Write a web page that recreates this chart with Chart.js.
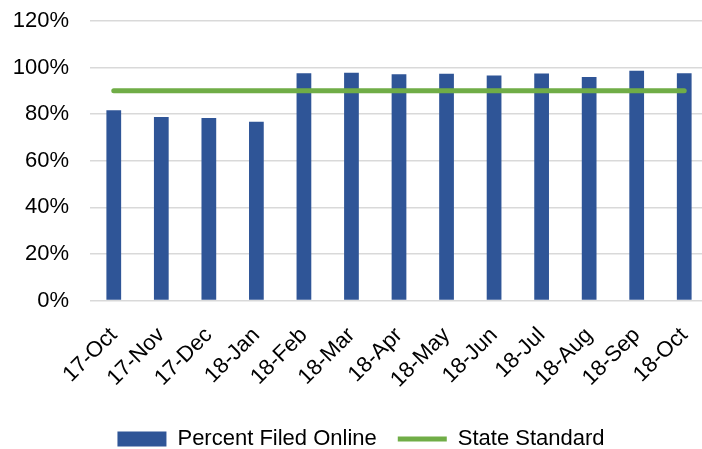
<!DOCTYPE html>
<html>
<head>
<meta charset="utf-8">
<script src="https://cdn.jsdelivr.net/npm/chart.js@4/dist/chart.umd.min.js"></script>
<style>
  html, body { margin: 0; padding: 0; background: #fff; overflow: hidden; }
  #wrap { width: 710px; height: 449px; }
</style>
</head>
<body>
<div id="wrap"><canvas id="filingChart"></canvas></div>
<script>
// data
var months = ['17-Oct', '17-Nov', '17-Dec', '18-Jan', '18-Feb', '18-Mar', '18-Apr',
              '18-May', '18-Jun', '18-Jul', '18-Aug', '18-Sep', '18-Oct'];
var percentOnline = [81.7, 78.8, 78.3, 76.7, 97.6, 97.8, 97.1, 97.3, 96.6, 97.5, 95.9, 98.6, 97.6];
var stateStandard = [90, 90, 90, 90, 90, 90, 90, 90, 90, 90, 90, 90, 90];
var yTicks = [0, 20, 40, 60, 80, 100, 120];

var font = { family: 'Arial, "Liberation Sans", sans-serif', size: 22 };

document.addEventListener('DOMContentLoaded', function() {
    var ctx = document.getElementById('filingChart').getContext('2d');
    new Chart(ctx, {
        data: {
            labels: months,
            datasets: [{
                type: 'line',
                label: 'State Standard',
                data: stateStandard,
                borderColor: '#70AD47',
                backgroundColor: '#70AD47',
                borderWidth: 5,
                borderCapStyle: 'round',
                pointRadius: 0,
                pointStyle: 'line',
                order: 0
            }, {
                type: 'bar',
                label: 'Percent Filed Online',
                data: percentOnline,
                backgroundColor: '#2F5597',
                borderWidth: 0,
                pointStyle: 'rect',
                barPercentage: 1,
                categoryPercentage: 0.31,
                order: 1
            }]
        },
        options: {
            responsive: true,
            maintainAspectRatio: false,
            animation: false,
            layout: { padding: { left: 14, right: 2, top: 21, bottom: -11 } },
            plugins: {
                legend: {
                    position: 'bottom',
                    reverse: true,
                    labels: {
                        font: font,
                        color: '#000',
                        usePointStyle: true,
                        pointStyleWidth: 49,
                        boxHeight: 15,
                        padding: 21
                    }
                },
                tooltip: { enabled: false }
            },
            scales: {
                x: {
                    grid: { display: false },
                    border: { display: false },
                    ticks: {
                        font: font,
                        color: '#000',
                        minRotation: 45,
                        maxRotation: 45,
                        autoSkip: false,
                        padding: 14
                    },
                    afterFit: function(scale) {
                        scale.paddingLeft = 0;
                        scale.paddingRight = 0;
                    }
                },
                y: {
                    min: 0,
                    max: 120,
                    afterBuildTicks: function(axis) {
                        axis.ticks = yTicks.map(function(v) { return { value: v }; });
                    },
                    afterFit: function(scale) {
                        scale.width = 76;
                        scale.paddingTop = 0;
                        scale.paddingBottom = 0;
                    },
                    grid: { color: '#D9D9D9', lineWidth: 1.5, drawTicks: false },
                    border: { display: false },
                    ticks: {
                        font: font,
                        color: '#000',
                        padding: 21,
                        callback: function(value) { return value + '%'; }
                    }
                }
            }
        }
    });
});
</script>
</body>
</html>
